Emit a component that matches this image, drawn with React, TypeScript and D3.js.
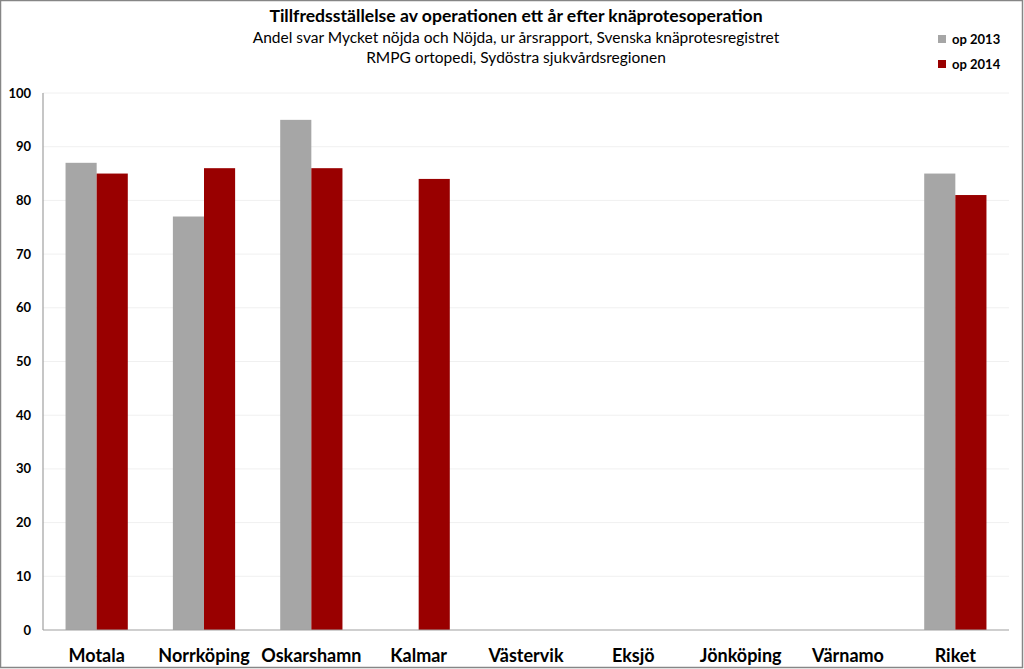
import React from "react";
import * as d3 from "d3";

const categories = ["Motala", "Norrköping", "Oskarshamn", "Kalmar", "Västervik", "Eksjö", "Jönköping", "Värnamo", "Riket"];
const series2013: (number | null)[] = [87, 77, 95, null, null, null, null, null, 85];
const series2014: (number | null)[] = [85, 86, 86, 84, null, null, null, null, 81];
const seriesNames = ["op 2013", "op 2014"];
const seriesColors = ["#a6a6a6", "#990000"];
const yTicks = [0, 10, 20, 30, 40, 50, 60, 70, 80, 90, 100];

const W = 1024;
const H = 669;
const margin = { top: 93, right: 15, bottom: 39, left: 43 };
const font = "Lato, 'Open Sans', sans-serif";

export default function App() {
  const x = d3
    .scaleBand<string>()
    .domain(categories)
    .range([margin.left, W - margin.right])
    .paddingInner(0.42)
    .paddingOuter(0.21);
  const inner = d3
    .scaleBand<string>()
    .domain(seriesNames)
    .range([0, x.bandwidth()]);
  const y = d3.scaleLinear().domain([0, 100]).range([H - margin.bottom, margin.top]);

  const allSeries = [series2013, series2014];

  return (
    <svg width={W} height={H} style={{ position: "absolute", left: 0, top: 0, background: "white", fontFamily: font }}>
      <rect x={0.5} y={0.5} width={W - 2} height={H - 2} fill="white" stroke="#868686" strokeWidth={1.5} />

      <text x={516} y={22} textAnchor="middle" fontSize={17.6} fontWeight={700} fill="#000">
        Tillfredsställelse av operationen ett år efter knäprotesoperation
      </text>
      <text x={516} y={43} textAnchor="middle" fontSize={15.5} fill="#000">
        Andel svar Mycket nöjda och Nöjda, ur årsrapport, Svenska knäprotesregistret
      </text>
      <text x={516} y={63} textAnchor="middle" fontSize={15.5} fill="#000">
        RMPG ortopedi, Sydöstra sjukvårdsregionen
      </text>

      {seriesNames.map((s, i) => (
        <g key={s}>
          <rect x={938} y={35 + i * 25} width={8} height={8} fill={seriesColors[i]} />
          <text x={952} y={44 + i * 25} fontSize={13} fontWeight={700} fill="#000">
            {s}
          </text>
        </g>
      ))}

      {yTicks.map((t) => (
        <g key={t}>
          {t > 0 && (
            <line x1={margin.left} x2={W - margin.right} y1={y(t)} y2={y(t)} stroke="#f0f0f0" strokeWidth={1} />
          )}
          <text x={31} y={y(t) + 4.5} textAnchor="end" fontSize={13} fontWeight={700} fill="#000">
            {t}
          </text>
        </g>
      ))}

      {allSeries.map((vals, si) =>
        vals.map((v, ci) =>
          v == null ? null : (
            <rect
              key={`${si}-${ci}`}
              x={(x(categories[ci]) ?? 0) + (inner(seriesNames[si]) ?? 0)}
              y={y(v)}
              width={inner.bandwidth()}
              height={y(0) - y(v)}
              fill={seriesColors[si]}
            />
          )
        )
      )}

      <line x1={margin.left} x2={margin.left} y1={margin.top} y2={y(0)} stroke="#a0a0a0" strokeWidth={1.2} />
      <line x1={margin.left} x2={W - margin.right} y1={y(0)} y2={y(0)} stroke="#a0a0a0" strokeWidth={1.2} />

      {categories.map((c) => (
        <text
          key={c}
          x={(x(c) ?? 0) + x.bandwidth() / 2}
          y={662}
          textAnchor="middle"
          fontSize={18}
          fontWeight={700}
          fill="#000"
        >
          {c}
        </text>
      ))}
    </svg>
  );
}
